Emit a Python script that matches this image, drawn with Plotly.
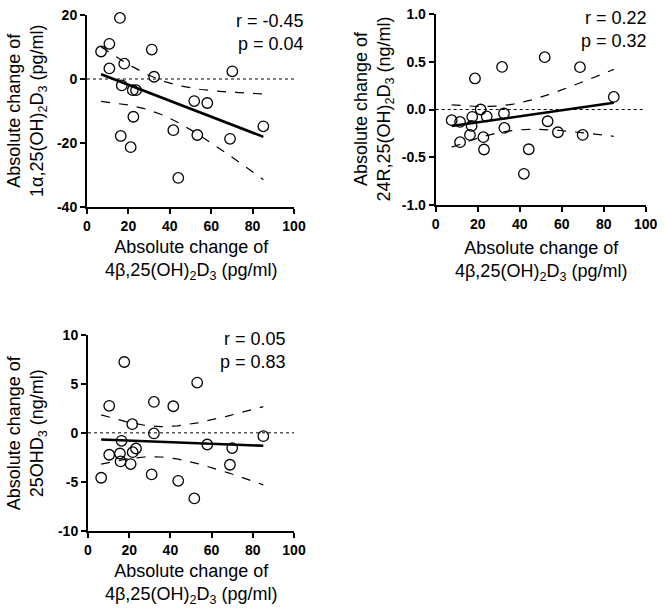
import numpy as np
import plotly.graph_objects as go

# ---------------- data ----------------
x_1a = [15.9, 10.8, 6.8, 31.3, 18.0, 10.8, 32.4, 70.2, 16.8, 22.1, 23.7, 51.8, 58.1,
        22.4, 85.2, 41.7, 16.3, 53.3, 69.1, 21.1, 44.1]
y_1a = [19.1, 11.0, 8.6, 9.2, 4.8, 3.3, 0.7, 2.4, -2.0, -3.5, -3.5, -6.9, -7.5,
        -11.8, -14.8, -16.0, -17.8, -17.5, -18.7, -21.3, -30.9]

x_24r = [7.6, 11.6, 11.6, 18.7, 17.4, 17.1, 16.3, 21.4, 24.3, 22.7, 23.0, 31.6, 32.5,
         32.7, 42.0, 44.3, 51.9, 53.3, 58.2, 68.7, 70.0, 84.8]
y_24r = [-0.112, -0.130, -0.342, 0.325, -0.077, -0.172, -0.266, 0.0, -0.073, -0.290,
         -0.419, 0.446, -0.042, -0.193, -0.674, -0.416, 0.548, -0.123, -0.238, 0.443,
         -0.266, 0.132]

x_25 = [17.6, 53.0, 10.3, 32.0, 41.4, 21.5, 32.0, 85.1, 16.3, 57.9, 70.0, 23.3, 21.7,
        10.3, 15.5, 15.8, 20.7, 68.9, 6.4, 30.9, 43.8, 51.6]
y_25 = [7.24, 5.14, 2.76, 3.16, 2.72, 0.89, -0.06, -0.34, -0.82, -1.19, -1.56, -1.60,
        -1.97, -2.24, -2.11, -2.92, -3.19, -3.26, -4.59, -4.25, -4.90, -6.70]

x_ticks = [0, 20, 40, 60, 80, 100]
x_ticklabels = ["0", "20", "40", "60", "80", "100"]
y1_ticks = [-40, -20, 0, 20]
y1_ticklabels = ["-40", "-20", "0", "20"]
y2_ticks = [-1.0, -0.5, 0.0, 0.5, 1.0]
y2_ticklabels = ["-1.0", "-0.5", "0.0", "0.5", "1.0"]
y3_ticks = [-10, -5, 0, 5, 10]
y3_ticklabels = ["-10", "-5", "0", "5", "10"]

stats_1a = ["r = -0.45", "p = 0.04"]
stats_24r = ["r = 0.22", "p = 0.32"]
stats_25 = ["r = 0.05", "p = 0.83"]

x_title = "Absolute change of<br>4β,25(OH)<sub>2</sub>D<sub>3</sub> (pg/ml)"
y1_title = "Absolute change of<br>1α,25(OH)<sub>2</sub>D<sub>3</sub> (pg/ml)"
y2_title = "Absolute change of<br>24R,25(OH)<sub>2</sub>D<sub>3</sub> (ng/ml)"
y3_title = "Absolute change of<br>25OHD<sub>3</sub> (ng/ml)"

# ---------------- helpers ----------------
W, H = 664, 611
FONT = "Liberation Sans, Arial, sans-serif"
T975 = {18: 2.101, 19: 2.093, 20: 2.086, 21: 2.080, 22: 2.074}


def fit_band(x, y):
    x = np.asarray(x, float)
    y = np.asarray(y, float)
    n = len(x)
    b, a = np.polyfit(x, y, 1)
    resid = y - (a + b * x)
    s = np.sqrt(np.sum(resid ** 2) / (n - 2))
    xm = x.mean()
    sxx = np.sum((x - xm) ** 2)
    xs = np.linspace(x.min(), x.max(), 80)
    fit = a + b * xs
    se = s * np.sqrt(1.0 / n + (xs - xm) ** 2 / sxx)
    t = T975.get(n - 2, 2.086)
    return xs, fit, fit - t * se, fit + t * se


fig = go.Figure()

panels = [
    dict(x=x_1a, y=y_1a, xa="x", ya="y", xpx=(87, 294), ypx=(15, 207), yr=(-40, 20),
         yt=y1_ticks, ytl=y1_ticklabels, stats=stats_1a, stat_px=(306, 20),
         ytitle=y1_title, ytitle_px=27, xtitle_py=260),
    dict(x=x_24r, y=y_24r, xa="x2", ya="y2", xpx=(435.7, 645.7), ypx=(14, 205), yr=(-1, 1),
         yt=y2_ticks, ytl=y2_ticklabels, stats=stats_24r, stat_px=(649, 17),
         ytitle=y2_title, ytitle_px=373, xtitle_py=261),
    dict(x=x_25, y=y_25, xa="x3", ya="y3", xpx=(88, 294), ypx=(335, 530.7), yr=(-10, 10),
         yt=y3_ticks, ytl=y3_ticklabels, stats=stats_25, stat_px=(288, 338),
         ytitle=y3_title, ytitle_px=26.5, xtitle_py=584),
]

axis_common = dict(showgrid=False, zeroline=False, showline=True, linecolor="black",
                   linewidth=2, ticks="outside", ticklen=5, tickwidth=2, tickcolor="black",
                   automargin=False,
                   tickfont=dict(family=FONT, size=14, color="black", weight="bold"))

for i, p in enumerate(panels):
    suffix = "" if i == 0 else str(i + 1)
    xs, fit, lo, hi = fit_band(p["x"], p["y"])
    for band in (lo, hi):
        fig.add_trace(go.Scatter(x=xs, y=band, mode="lines", xaxis=p["xa"], yaxis=p["ya"],
                                 line=dict(color="black", width=1.2, dash="dash"),
                                 showlegend=False, hoverinfo="skip"))
    fig.add_trace(go.Scatter(x=xs, y=fit, mode="lines", xaxis=p["xa"], yaxis=p["ya"],
                             line=dict(color="black", width=2.6), showlegend=False))
    fig.add_trace(go.Scatter(x=p["x"], y=p["y"], mode="markers", xaxis=p["xa"], yaxis=p["ya"],
                             cliponaxis=False,
                             marker=dict(symbol="circle", size=10.5, color="rgba(255,255,255,0)",
                                         line=dict(color="black", width=1.3)),
                             showlegend=False))
    # dotted zero reference line
    fig.add_shape(type="line", xref=p["xa"] + " domain", yref=p["ya"], x0=0, x1=1, y0=0, y1=0,
                  line=dict(color="black", width=1, dash="dot"), layer="below")

    x0, x1 = p["xpx"]
    y0, y1 = p["ypx"]
    fig.update_layout(**{
        "xaxis" + suffix: dict(axis_common, domain=[x0 / W, x1 / W], range=[0, 100],
                               tickvals=x_ticks, ticktext=x_ticklabels, anchor=p["ya"]),
        "yaxis" + suffix: dict(axis_common, domain=[1 - y1 / H, 1 - y0 / H], range=list(p["yr"]),
                               tickvals=p["yt"], ticktext=p["ytl"], anchor=p["xa"]),
    })

    # stats text
    sx, sy = p["stat_px"]
    fig.add_annotation(x=sx / W, y=1 - (sy - 11) / H, xref="paper", yref="paper",
                       xanchor="right", yanchor="top", align="right", showarrow=False,
                       text="<br>".join(p["stats"]),
                       font=dict(family=FONT, size=18, color="black"))
    # x title
    fig.add_annotation(x=(x0 + x1) / 2 / W, y=1 - p["xtitle_py"] / H, xref="paper", yref="paper",
                       xanchor="center", yanchor="middle", showarrow=False, text=x_title,
                       font=dict(family=FONT, size=18, color="black"))
    # y title
    fig.add_annotation(x=p["ytitle_px"] / W, y=1 - (y0 + y1) / 2 / H, xref="paper", yref="paper",
                       xanchor="center", yanchor="middle", showarrow=False, textangle=-90,
                       text=p["ytitle"], font=dict(family=FONT, size=18, color="black"))

fig.update_layout(width=W, height=H, margin=dict(l=0, r=0, t=0, b=0),
                  paper_bgcolor="white", plot_bgcolor="white", showlegend=False)

# remove the browser's default 8px body margin so the figure fills the window exactly
fig.write_html("out.html", config={"displayModeBar": False},
               post_script="document.body.style.margin='0';document.body.style.overflow='hidden';")
